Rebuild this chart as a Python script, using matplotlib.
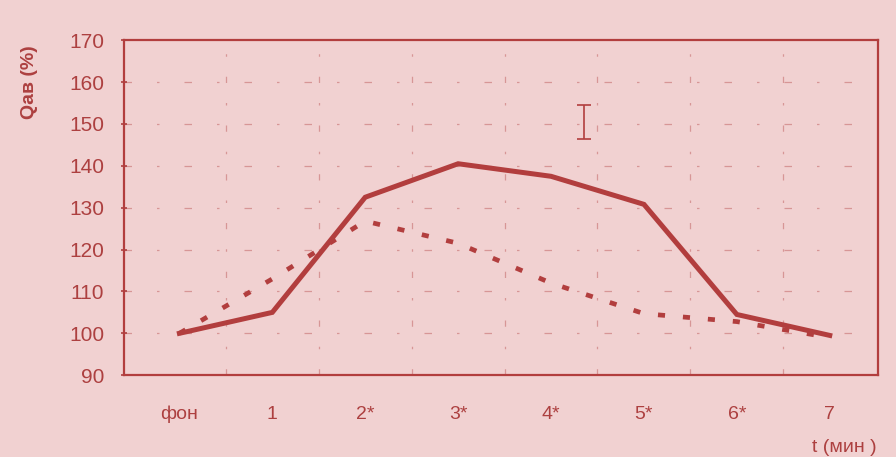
import numpy as np
import matplotlib
matplotlib.use('Agg')
import matplotlib.pyplot as plt

# дані
labels = ['фон', '1', '2*', '3*', '4*', '5*', '6*', '7']
solid = [100, 105, 132.5, 140.5, 137.5, 130.8, 104.5, 99.5]
dashed = [100, 113, 126.8, 121.5, 112, 104.7, 102.8, 99]
yticks = [90, 100, 110, 120, 130, 140, 150, 160, 170]
# маленька позначка «I» над кривою
err_x = [4.35]
err_y = [150.5]
err_h = [4]

bg = '#f1d1d1'
red = '#b23e3e'
txt = '#ad4040'

plt.rcParams['font.family'] = ['Liberation Sans', 'DejaVu Sans']

fig = plt.figure(figsize=(8.96, 4.57), dpi=100, facecolor=bg)
ax = fig.add_axes([0.138, 0.179, 0.842, 0.733])
ax.set_facecolor(bg)

x = np.arange(len(labels))

# сітка штрих-пунктиром, бліда і рвана
for xv in x[:-1] + 0.5:
    ax.axvline(xv, color=red, lw=0.9, alpha=0.4, ls=(0, (5, 16, 2, 16)), zorder=1)
for yv in yticks[1:-1]:
    ax.axhline(yv, color=red, lw=0.9, alpha=0.4, ls=(0, (6, 20, 2, 20)), zorder=1)

ax.plot(x, solid, color=red, lw=3.6, solid_joinstyle='miter', zorder=3)
ax.plot(x, dashed, color=red, lw=3.4, ls=(0, (1.5, 3.8)), zorder=3)
ax.errorbar(err_x, err_y, yerr=err_h, fmt='none', ecolor=red, elinewidth=1.2,
            capsize=5, capthick=1.2, zorder=3)

ax.set_xlim(-0.6, 7.52)
ax.set_ylim(90, 170)
ax.set_yticks(yticks)
ax.set_xticks(x)
ax.set_xticklabels(labels)

for s in ax.spines.values():
    s.set_color(red)
    s.set_linewidth(1.6)

ax.tick_params(axis='y', colors=txt, labelsize=15, length=4, direction='inout',
               width=1.2, pad=12)
ax.tick_params(axis='x', colors=txt, labelsize=14, length=0, pad=22)
for lab in ax.get_yticklabels() + ax.get_xticklabels():
    lab.set_color(txt)

fig.text(30 / 896, 1 - 82 / 457, 'Qав (%)', rotation=90, color=txt, fontsize=14,
         fontweight='bold', ha='center', va='center')
fig.text(812 / 896, 1 - 447 / 457, 't (мин )', color=txt, fontsize=14,
         ha='left', va='center')

fig.savefig('out.png', dpi=100, facecolor=bg)
